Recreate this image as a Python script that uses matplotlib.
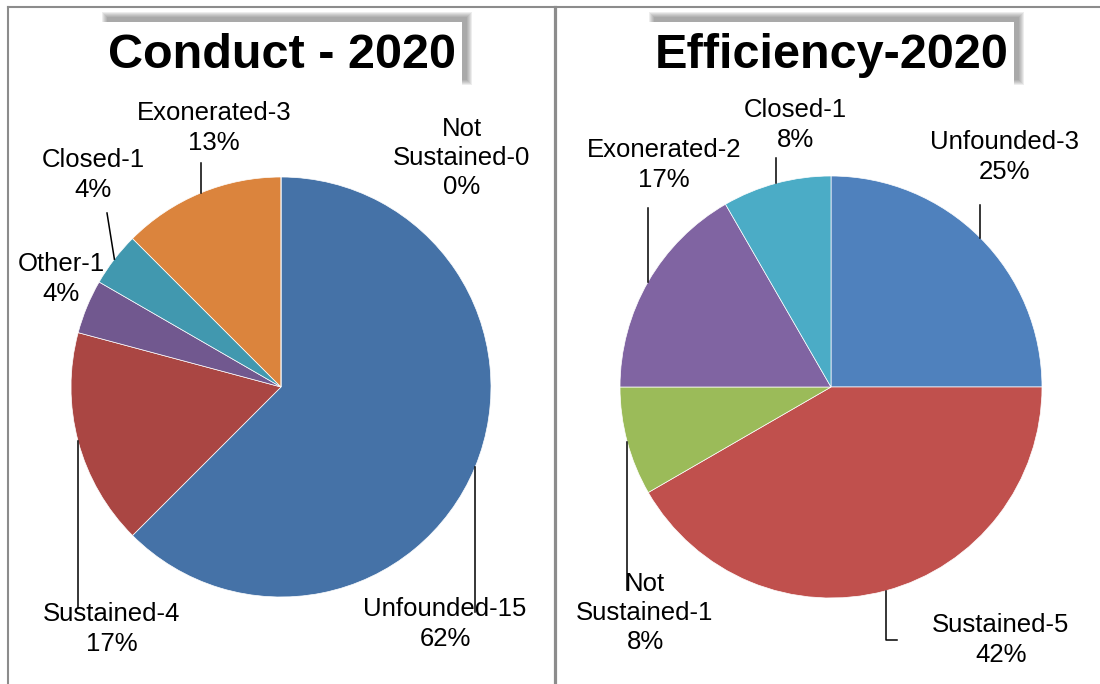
import matplotlib.pyplot as plt
from matplotlib.patches import Rectangle
import numpy as np

plt.rcParams['font.family'] = ['Liberation Sans', 'DejaVu Sans']

# --- data ---
conduct_names = ['Unfounded', 'Sustained', 'Other', 'Closed', 'Exonerated', 'Not Sustained']
conduct_counts = [15, 4, 1, 1, 3, 0]
conduct_pct = [62, 17, 4, 4, 13, 0]
conduct_colors = ['#4572A7', '#AA4643', '#71588F', '#4198AF', '#DB843D', '#89A54E']

efficiency_names = ['Unfounded', 'Sustained', 'Not Sustained', 'Exonerated', 'Closed']
efficiency_counts = [3, 5, 1, 2, 1]
efficiency_pct = [25, 42, 8, 17, 8]
efficiency_colors = ['#4F81BD', '#C0504D', '#9BBB59', '#8064A2', '#4BACC6']

W, H = 1100, 684

# layout in pixels (y measured from the top)
conduct_layout = dict(
    title='Conduct - 2020', center=(281, 387), radius=210, box=(102, 22, 360, 63),
    label_pos=[(445, 624), (112, 629), (61, 279), (93, 175), (214, 128), (462, 158)],
    leaders=[[(None, 612)], [(None, 608)], [], [(107, 213)], [(None, 163)], []],
)
efficiency_layout = dict(
    title='Efficiency-2020', center=(831, 387), radius=211, box=(649, 22, 365, 63),
    label_pos=[(1005, 157), (1001, 640), (645, 613), (664, 165), (795, 125)],
    leaders=[[(None, 205)], [(None, 640), (897, 640)], [(None, 590)], [(None, 208)], [(None, 158)]],
)

fig = plt.figure(figsize=(11, 6.84), dpi=100)
ax = fig.add_axes([0, 0, 1, 1])


def draw_pie(names, counts, pct, colors, lay):
    wedges, _ = ax.pie(counts, colors=colors, center=lay['center'], radius=lay['radius'],
                       startangle=-90, counterclock=True,
                       wedgeprops=dict(edgecolor='white', linewidth=0.5))
    cx, cy = lay['center']
    r = lay['radius']
    for w, name, c, p, pos, lead in zip(wedges, names, counts, pct,
                                         lay['label_pos'], lay['leaders']):
        text = name.replace(' ', '\n') + '-%d\n%d%%' % (c, p)
        ax.text(pos[0], pos[1], text, ha='center', va='center', fontsize=18.5,
                linespacing=1.27)
        if lead:
            mid = np.deg2rad((w.theta1 + w.theta2) / 2)
            ax_x = cx + r * np.cos(mid)
            ax_y = cy + r * np.sin(mid)
            xs, ys = [ax_x], [ax_y]
            for px, py in lead:
                xs.append(ax_x if px is None else px)
                ys.append(py)
            ax.plot(xs, ys, color='black', lw=1.1, zorder=3)

    # title box with soft shadow (up and to the right)
    bx, by, bw, bh = lay['box']
    for k in range(6):
        ax.add_patch(Rectangle((bx + 5 - k, by - 5 - k), bw + 2 * k, bh + 2 * k,
                               facecolor='#505050', edgecolor='none', alpha=0.1, zorder=4))
    ax.add_patch(Rectangle((bx, by), bw, bh, facecolor='white', edgecolor='none', zorder=5))
    ax.text(bx + bw / 2, by + bh / 2 + 2, lay['title'], ha='center', va='center',
            fontsize=35, fontweight='bold', zorder=6)


draw_pie(conduct_names, conduct_counts, conduct_pct, conduct_colors, conduct_layout)
draw_pie(efficiency_names, efficiency_counts, efficiency_pct, efficiency_colors, efficiency_layout)

# frame lines
ax.plot([8, W], [6.5, 6.5], color='#8C8C8C', lw=1.5, zorder=7)
ax.plot([8, 8], [6.5, H], color='#8C8C8C', lw=1.5, zorder=7)
ax.plot([555, 555], [6.5, H], color='#8C8C8C', lw=2.3, zorder=7)

ax.set_aspect('auto')
ax.set_xlim(0, W)
ax.set_ylim(H, 0)
ax.axis('off')

fig.savefig('out.png', dpi=100)
